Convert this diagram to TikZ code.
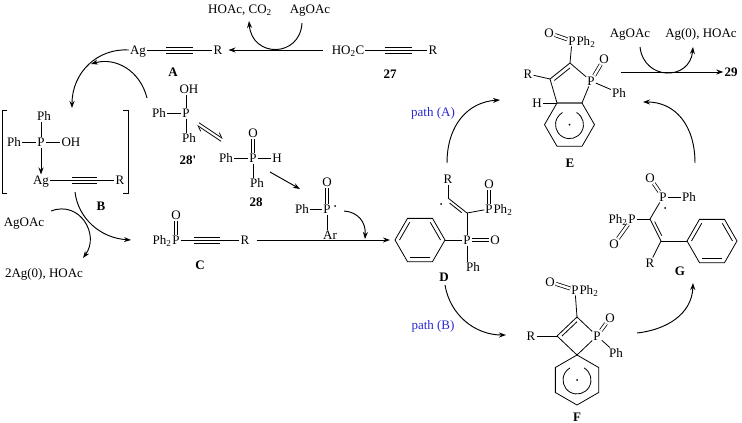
\documentclass[tikz,border=0pt]{standalone}
\usepackage{fontspec}
\setmainfont{Liberation Serif}
\usetikzlibrary{arrows.meta,calc}
\definecolor{pathblue}{RGB}{40,40,210}
\begin{document}
\begin{tikzpicture}[x=1pt,y=-1pt,
  every node/.style={inner sep=1pt, text height=8.6pt, text depth=0pt, font=\fontsize{13}{15}\selectfont},
  lbl/.style={font=\fontsize{13}{15}\selectfont\bfseries},
  sub/.style={inner sep=0pt},
  bond/.style={line width=0.8pt},
  dbl/.style={line width=0.75pt, double, double distance=2.4pt},
  arr/.style={line width=0.95pt, -{Stealth[length=7pt,width=5pt]}},
  harp/.style={line width=0.75pt, -{Straight Barb[harpoon,length=5pt,width=6pt]}}]
\useasboundingbox (0,0) rectangle (742,423);

% ---------- top: 27 -> A ----------
\node (hoacco) at (240,9) {HOAc, CO\textsubscript{2}};
\node (agoac1) at (310,9) {AgOAc};
\coordinate (c1s) at (302,23);
\coordinate (c1e) at (249,21);
\draw[arr] (c1s) .. controls (300,58) and (252,58) .. (c1e);

\node (hoc) at (348,50) {HO\textsubscript{2}C};
\node (r27) at (433,50) {R};
\coordinate (t27a) at (385,50); \coordinate (t27b) at (412,50);
\draw[bond] (hoc) -- (r27);
\draw[bond] ($(t27a)+(0,-3)$) -- ($(t27b)+(0,-3)$);
\draw[bond] ($(t27a)+(0,3)$) -- ($(t27b)+(0,3)$);
\node[lbl] (l27) at (390,74) {27};

\node (agA) at (138,50) {Ag};
\node (rA) at (218,50) {R};
\coordinate (tAa) at (166,50); \coordinate (tAb) at (193,50);
\draw[bond] (agA) -- (rA);
\draw[bond] ($(tAa)+(0,-3)$) -- ($(tAb)+(0,-3)$);
\draw[bond] ($(tAa)+(0,3)$) -- ($(tAb)+(0,3)$);
\node[lbl] (lA) at (173,72) {A};
\draw[arr, shorten <=8pt, shorten >=5pt] (hoc) -- (rA);

% ---------- B ----------
\draw[bond] (7,110) -- (2,110) -- (2,193) -- (7,193);
\draw[bond] (123,110) -- (128,110) -- (128,193) -- (123,193);
\node (phB1) at (44,116) {Ph};
\node (pB) at (41,142) {P};
\node (phB2) at (14,142) {Ph};
\node (ohB) at (71,142) {OH};
\node (agB) at (41,180) {Ag};
\node (rB) at (120,180) {R};
\draw[bond] (pB) -- (pB |- phB1.south);
\draw[bond] (pB) -- (phB2);
\draw[bond] (pB) -- (ohB);
\draw[arr] (pB) -- (agB);
\coordinate (tBa) at (72,180); \coordinate (tBb) at (97,180);
\draw[bond] (agB) -- (rB);
\draw[bond] ($(tBa)+(0,-3)$) -- ($(tBb)+(0,-3)$);
\draw[bond] ($(tBa)+(0,3)$) -- ($(tBb)+(0,3)$);
\node[lbl] (lB) at (101,206) {B};

% A -> B
\coordinate (arAB) at (72,108);
\draw[arr] (agA.west) .. controls (98,48) and (72,72) .. (arAB);
\coordinate (s28) at (147,98);
\coordinate (m28) at (91,64);
\draw[arr] (s28) .. controls (140,70) and (115,57) .. (m28);

% ---------- C ----------
\node (pC) at (176,240) {P};
\node[sub, anchor=base east] (ph2C) at ([xshift=0.5pt]pC.base west) {Ph\textsubscript{2}};
\node (oC) at (176,215) {O};
\node (rC) at (245,240) {R};
\draw[dbl] (pC) -- (oC);
\coordinate (tCa) at (194,240); \coordinate (tCb) at (220,240);
\draw[bond] (pC) -- (rC);
\draw[bond] ($(tCa)+(0,-3)$) -- ($(tCb)+(0,-3)$);
\draw[bond] ($(tCa)+(0,3)$) -- ($(tCb)+(0,3)$);
\node[lbl] (lC) at (200,265) {C};

\coordinate (bcs) at (75,192); \coordinate (bce) at (131,240);
\draw[arr] (bcs) .. controls (78,218) and (100,238) .. (bce);
\node (agoac2) at (24,222) {AgOAc};
\node (ag0) at (44,273) {2Ag(0), HOAc};
\coordinate (ags) at (51,211); \coordinate (age) at (83,258);
\draw[arr] (ags) .. controls (80,200) and (100,235) .. (age);

% ---------- 28' ----------
\node (oh28p) at (189,89) {OH};
\node (p28p) at (186,113) {P};
\node (ph28pa) at (159,113) {Ph};
\node (ph28pb) at (189,138) {Ph};
\draw[bond] (p28p) -- (p28p |- oh28p.south);
\draw[bond] (p28p) -- (ph28pa);
\draw[bond] (p28p) -- (p28p |- ph28pb.north);
\node[lbl] (l28p) at (188,160) {28\textquotesingle};
\coordinate (eqa) at (198,124); \coordinate (eqb) at (222,140);
\draw[harp] ($(eqa)!1.6pt!90:(eqb)$) -- ($(eqb)!1.6pt!-90:(eqa)$);
\draw[harp] ($(eqb)!1.6pt!90:(eqa)$) -- ($(eqa)!1.6pt!-90:(eqb)$);

% ---------- 28 ----------
\node (o28) at (253,133) {O};
\node (p28) at (253,158) {P};
\node (ph28a) at (226,158) {Ph};
\node (h28) at (277,158) {H};
\node (ph28b) at (257,183) {Ph};
\draw[dbl] (p28) -- (o28);
\draw[bond] (p28) -- (ph28a);
\draw[bond] (p28) -- (h28);
\draw[bond] (p28) -- (p28 |- ph28b.north);
\node[lbl] (l28) at (256,202) {28};
\coordinate (r1s) at (270,172); \coordinate (r1e) at (300,189);
\draw[arr] (r1s) -- (r1e);

% ---------- phosphinoyl radical ----------
\node (orad) at (327,182) {O};
\node (prad) at (327,209) {P};
\node (phrad) at (302,209) {Ph};
\node (arrad) at (330,235) {Ar};
\draw[dbl] (prad) -- (orad);
\draw[bond] (prad) -- (phrad);
\draw[bond] (prad) -- (prad |- arrad.north);
\fill (335,206) circle[radius=1pt];
\coordinate (r2s) at (344,211); \coordinate (r2e) at (365,239);
\draw[arr] (r2s) .. controls (358,212) and (366,222) .. (r2e);

% ---------- D ----------
\coordinate (Dl) at (395,240); \coordinate (Dtl) at (407.5,218.35);
\coordinate (Dtr) at (432.5,218.35); \coordinate (Dr) at (445,240);
\coordinate (Dbr) at (432.5,261.65); \coordinate (Dbl) at (407.5,261.65);
\coordinate (Dc) at (420,240);
\draw[bond] (Dl) -- (Dtl) -- (Dtr) -- (Dr) -- (Dbr) -- (Dbl) -- cycle;
\draw[bond] ($(Dl)!0.18!(Dc)$) -- ($(Dtl)!0.18!(Dc)$);
\draw[bond] ($(Dtr)!0.18!(Dc)$) -- ($(Dr)!0.18!(Dc)$);
\draw[bond] ($(Dbr)!0.18!(Dc)$) -- ($(Dbl)!0.18!(Dc)$);
\draw[arr, shorten <=6pt, shorten >=5pt] (rC) -- (Dl);
\node (pD) at (467,240) {P};
\node (oD) at (495,240) {O};
\node (phD) at (473,267) {Ph};
\coordinate (DC1) at (467,213);
\coordinate (DC2) at (448,198);
\node (rD) at (448,179) {R};
\node (ppD) at (489,209) {P};
\node[sub, anchor=base west] (ph2D) at ([xshift=-0.5pt]ppD.base east) {Ph\textsubscript{2}};
\node (ooD) at (489,184) {O};
\draw[bond] (Dr) -- (pD);
\draw[dbl] (pD) -- (oD);
\draw[bond] (pD) -- (pD |- phD.north);
\draw[bond] (pD) -- (DC1);
\draw[bond] (DC1) -- (DC2);
\draw[bond] ($(DC2)!0.18!(DC1)!3pt!-90:(DC1)$) -- ($(DC2)!0.82!(DC1)!3pt!-90:(DC1)$);
\draw[bond] (DC2) -- (rD);
\draw[bond] (DC1) -- (ppD);
\draw[dbl] (ppD) -- (ooD);
\fill (441,204) circle[radius=1pt];
\node[lbl] (lD) at (444,277) {D};

% ---------- E ----------
\coordinate (EC3a) at (557,103); \coordinate (EC7a) at (582,103);
\coordinate (Er) at (594.5,124.65); \coordinate (Ebr) at (582,146.3);
\coordinate (Ebl) at (557,146.3); \coordinate (El) at (544.5,124.65);
\coordinate (Ec) at (569.5,124.65);
\coordinate (EC3) at (550,79); \coordinate (EC2) at (570,63);
\coordinate (E5c) at (570,85.6);
\node (EP) at (591,81) {P};
\draw[bond] (EC3a) -- (EC7a) -- (Er) -- (Ebr) -- (Ebl) -- (El) -- cycle;
\draw[bond] (EC7a) -- (EC3a) -- (EC3) -- (EC2);
\draw[bond] (EC2) -- (EP);
\draw[bond] (EP) -- (EC7a);
\draw[bond] ($(EC3)!0.22!(E5c)$) -- ($(EC2)!0.22!(E5c)$);
\draw[bond] ($(Ec)+(60:14pt)$) arc[start angle=60, end angle=-240, radius=14pt];
\fill (Ec) circle[radius=1pt];
\node (rE) at (528,74) {R};
\draw[bond] (rE) -- (EC3);
\node (hE) at (537,103) {H};
\draw[bond] (hE) -- (EC3a);
\node (phE) at (619,93) {Ph};
\draw[bond] (EP) -- (phE);
\node (oE) at (604,59) {O};
\draw[dbl] (EP) -- (oE);
\node (ppE) at (572,41) {P};
\node[sub, anchor=base west] (ph2E) at ([xshift=-0.5pt]ppE.base east) {Ph\textsubscript{2}};
\draw[bond] (EC2) -- (ppE);
\node (ooE) at (549,33) {O};
\draw[dbl] (ooE) -- (ppE);
\node[lbl] (lE) at (570,163) {E};

% E -> 29
\coordinate (e29) at (621,72);
\node[lbl] (n29) at (731,72) {29};
\draw[arr] (e29) -- (n29);
\node (agoac3) at (630,33) {AgOAc};
\node (ag0b) at (701,33) {Ag(0), HOAc};
\coordinate (ce1) at (640,47); \coordinate (ce2) at (693,47);
\draw[arr] (ce1) .. controls (644,81) and (690,81) .. (ce2);

% paths
\node[text=pathblue] (pathA) at (433,112) {path (A)};
\coordinate (pAs) at (447,163); \coordinate (pAe) at (500,100);
\draw[arr] (pAs) .. controls (447,125) and (468,102) .. (pAe);
\coordinate (geS) at (695,163); \coordinate (geE) at (643,102);
\draw[arr] (geS) .. controls (695,125) and (675,102) .. (geE);
\node[text=pathblue] (pathB) at (433,325) {path (B)};
\coordinate (pBs) at (445,285); \coordinate (pBe) at (506,335);
\draw[arr] (pBs) .. controls (450,315) and (475,335) .. (pBe);
\coordinate (fgS) at (637,333); \coordinate (fgE) at (693,283);
\draw[arr] (fgS) .. controls (665,330) and (692,315) .. (fgE);

% ---------- F ----------
\node (ppF) at (575,290) {P};
\node[sub, anchor=base west] (ph2F) at ([xshift=-0.5pt]ppF.base east) {Ph\textsubscript{2}};
\node (ooF) at (550,282) {O};
\draw[dbl] (ooF) -- (ppF);
\coordinate (FC2) at (577,317); \coordinate (FS) at (577,355);
\coordinate (FC3) at (557,336); \coordinate (Fc4) at (577,336);
\node (FP) at (597,336) {P};
\draw[bond] (ppF) -- (FC2);
\draw[bond] (FC3) -- (FC2);
\draw[bond] (FC2) -- (FP);
\draw[bond] (FP) -- (FS);
\draw[bond] (FS) -- (FC3);
\draw[bond] ($(FC3)!0.25!(Fc4)$) -- ($(FC2)!0.25!(Fc4)$);
\node (rF) at (531,336) {R};
\draw[bond] (rF) -- (FC3);
\node (oF) at (610,318) {O};
\draw[dbl] (FP) -- (oF);
\node (phF) at (616,353) {Ph};
\draw[bond] (FP) -- (phF);
\coordinate (F1) at (598.65,367.5); \coordinate (F2) at (598.65,392.5);
\coordinate (F3) at (577,405); \coordinate (F4) at (555.35,392.5);
\coordinate (F5) at (555.35,367.5); \coordinate (Fc) at (577,380);
\draw[bond] (FS) -- (F1) -- (F2) -- (F3) -- (F4) -- (F5) -- cycle;
\draw[bond] ($(Fc)+(60:14pt)$) arc[start angle=60, end angle=-240, radius=14pt];
\fill (Fc) circle[radius=1pt];
\node[lbl] (lF) at (577,417) {F};

% ---------- G ----------
\node (pG) at (663,197) {P};
\node (phG) at (689,197) {Ph};
\node (oG) at (650,178) {O};
\coordinate (GC1) at (650,219); \coordinate (GC2) at (661,241);
\node (ppG) at (632,219) {P};
\node[sub, anchor=base east] (ph2G) at ([xshift=0.5pt]ppG.base west) {Ph\textsubscript{2}};
\node (ooG) at (614,244) {O};
\node (rG) at (650,263) {R};
\draw[bond] (pG) -- (phG);
\draw[dbl] (pG) -- (oG);
\draw[bond] (pG) -- (GC1);
\draw[bond] (ppG) -- (GC1);
\draw[dbl] (ppG) -- (ooG);
\draw[bond] (GC1) -- (GC2);
\draw[bond] ($(GC1)!0.18!(GC2)!3pt!90:(GC2)$) -- ($(GC1)!0.82!(GC2)!3pt!90:(GC2)$);
\draw[bond] (GC2) -- (rG);
\fill (665,208) circle[radius=1pt];
\coordinate (Gl) at (687,241); \coordinate (Gtl) at (699.5,219.35);
\coordinate (Gtr) at (724.5,219.35); \coordinate (Gr) at (737,241);
\coordinate (Gbr) at (724.5,262.65); \coordinate (Gbl) at (699.5,262.65);
\coordinate (Gc) at (712,241);
\draw[bond] (GC2) -- (Gl);
\draw[bond] (Gl) -- (Gtl) -- (Gtr) -- (Gr) -- (Gbr) -- (Gbl) -- cycle;
\draw[bond] ($(Gl)!0.18!(Gc)$) -- ($(Gtl)!0.18!(Gc)$);
\draw[bond] ($(Gtr)!0.18!(Gc)$) -- ($(Gr)!0.18!(Gc)$);
\draw[bond] ($(Gbr)!0.18!(Gc)$) -- ($(Gbl)!0.18!(Gc)$);
\node[lbl] (lG) at (680,271) {G};
\end{tikzpicture}
\end{document}
